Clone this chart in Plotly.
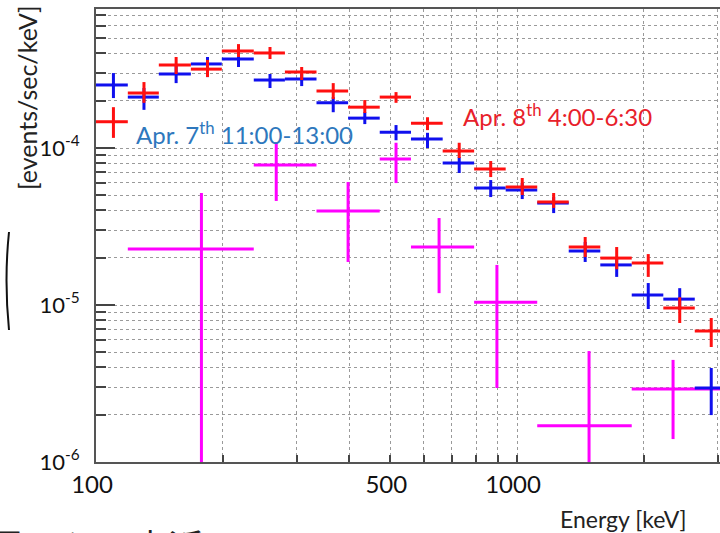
import plotly.graph_objects as go
import numpy as np

# ---- data ----
energy_lo = [100, 119, 141, 168, 199, 237, 281, 334, 397, 472, 560, 666, 791, 940, 1117, 1327, 1577, 1873, 2226, 2644]
energy_hi = [119, 141, 168, 199, 237, 281, 334, 397, 472, 560, 666, 791, 940, 1117, 1327, 1577, 1873, 2226, 2644, 3141]
energy_mid = [110, 130, 155, 184, 218, 259, 308, 366, 435, 516, 613, 729, 866, 1029, 1222, 1452, 1725, 2050, 2435, 2893]

blue_flux = [2.52e-4, 2.11e-4, 2.96e-4, 3.43e-4, 3.69e-4, 2.71e-4, 2.75e-4, 1.94e-4, 1.55e-4, 1.26e-4,
             1.14e-4, 8.02e-5, 5.56e-5, 5.40e-5, 4.46e-5, 2.21e-5, 1.80e-5, 1.16e-5, 1.09e-5, 2.96e-6]
blue_hi = [3.00e-4, 2.41e-4, 3.38e-4, 3.80e-4, 4.03e-4, 2.96e-4, 2.96e-4, 2.11e-4, 1.69e-4, 1.40e-4,
           1.25e-4, 8.77e-5, 6.25e-5, 5.98e-5, 4.87e-5, 2.52e-5, 2.02e-5, 1.38e-5, 1.28e-5, 3.97e-6]
blue_lo = [2.08e-4, 1.75e-4, 2.59e-4, 2.83e-4, 3.28e-4, 2.41e-4, 2.48e-4, 1.69e-4, 1.42e-4, 1.12e-4,
           1.00e-4, 6.93e-5, 4.87e-5, 4.73e-5, 3.85e-5, 1.88e-5, 1.51e-5, 9.43e-6, 9.29e-6, 1.99e-6]

red_flux = [1.47e-4, 2.24e-4, 3.38e-4, 3.18e-4, 4.15e-4, 4.03e-4, 3.05e-4, 2.31e-4, 1.82e-4, 2.11e-4,
            1.44e-4, 9.57e-5, 7.35e-5, 5.65e-5, 4.53e-5, 2.34e-5, 1.99e-5, 1.85e-5, 9.57e-6, 6.83e-6]
red_hi = [1.82e-4, 2.63e-4, 3.80e-4, 3.64e-4, 4.59e-4, 4.40e-4, 3.28e-4, 2.59e-4, 2.02e-4, 2.27e-4,
          1.57e-4, 1.08e-4, 8.26e-5, 6.44e-5, 5.17e-5, 2.71e-5, 2.34e-5, 2.11e-5, 1.12e-5, 8.26e-6]
red_lo = [1.16e-4, 1.94e-4, 2.96e-4, 2.83e-4, 3.80e-4, 3.69e-4, 2.71e-4, 2.05e-4, 1.67e-4, 1.94e-4,
          1.30e-4, 8.63e-5, 6.53e-5, 5.02e-5, 4.15e-5, 2.02e-5, 1.69e-5, 1.51e-5, 7.68e-6, 5.40e-6]

mag_mid = [178, 268, 397, 516, 653, 896, 1483, 2348]
mag_elo = [119, 237, 334, 472, 560, 791, 1117, 1873]
mag_ehi = [237, 334, 472, 560, 791, 1117, 1873, 3141]
mag_flux = [2.27e-5, 7.80e-5, 3.97e-5, 8.51e-5, 2.34e-5, 1.04e-5, 1.70e-6, 2.92e-6]
mag_hi = [5.17e-5, 1.09e-4, 6.07e-5, 1.08e-4, 3.58e-5, 1.80e-5, 5.09e-6, 4.47e-6]
mag_lo = [5e-7, 4.60e-5, 1.88e-5, 5.98e-5, 1.19e-5, 2.96e-6, 5e-7, 1.40e-6]

x_major = [100, 500, 1000]
x_major_text = ["100", "500", "1000"]
x_minor = [200, 300, 400, 600, 700, 800, 900, 2000, 3000]
y_major = [1e-6, 1e-5, 1e-4]
y_major_text = ["10<sup>-6</sup>", "10<sup>-5</sup>", "10<sup>-4</sup>"]
y_minor = [2e-6, 3e-6, 4e-6, 5e-6, 6e-6, 7e-6, 8e-6, 9e-6,
           2e-5, 3e-5, 4e-5, 5e-5, 6e-5, 7e-5, 8e-5, 9e-5,
           2e-4, 3e-4, 4e-4, 5e-4, 6e-4, 7e-4]

label_blue = "Apr. 7<sup>th</sup> 11:00-13:00"
label_red = "Apr. 8<sup>th</sup> 4:00-6:30"
x_title = "Energy [keV]"
y_title = "[events/sec/keV]"
jp_text = "見ると、点近"

# ---- figure ----
W, H = 720, 533
ML, MT, MB, MR = 96, 9, 71, 0
PW, PH = W - ML - MR, H - MT - MB


def px(xp):
    return (xp - ML) / PW


def py(yp):
    return (H - MB - yp) / PH


def cross(mid, lo, hi, f, flo, fhi, color):
    mid = np.array(mid, float); lo = np.array(lo, float); hi = np.array(hi, float)
    f = np.array(f, float); flo = np.array(flo, float); fhi = np.array(fhi, float)
    return go.Scatter(
        x=mid, y=f, mode="markers",
        marker=dict(size=3, color=color),
        error_x=dict(type="data", symmetric=False, array=hi - mid, arrayminus=mid - lo,
                     thickness=3, width=0, color=color),
        error_y=dict(type="data", symmetric=False, array=fhi - f, arrayminus=f - flo,
                     thickness=3, width=0, color=color),
        showlegend=False, hoverinfo="skip",
    )


fig = go.Figure()
fig.add_trace(cross(mag_mid, mag_elo, mag_ehi, mag_flux, mag_lo, mag_hi, "#ff00ff"))
fig.add_trace(cross(energy_mid, energy_lo, energy_hi, blue_flux, blue_lo, blue_hi, "#1010ee"))
fig.add_trace(cross(energy_mid, energy_lo, energy_hi, red_flux, red_lo, red_hi, "#ff1010"))

FONT = "Lato"
grid = dict(showgrid=True, gridcolor="#9a9a9a", griddash="dot", gridwidth=1)

fig.update_xaxes(
    type="log", range=[2, 2 + PW / 421.0],
    tickmode="array", tickvals=x_major, ticktext=x_major_text,
    ticks="inside", ticklen=7, tickwidth=1.5, tickcolor="#444",
    showline=True, linecolor="#555", linewidth=2, mirror=True,
    tickfont=dict(family=FONT, size=24, color="#111"),
    ticklabelshift=-4, ticklabelstandoff=0,
    minor=dict(tickmode="array", tickvals=x_minor, ticks="inside", ticklen=7,
               tickwidth=1.5, tickcolor="#444", **grid),
    zeroline=False, **grid,
)
fig.update_yaxes(
    type="log", range=[-6, -6 + PH / 157.0],
    tickmode="array", tickvals=y_major, ticktext=y_major_text,
    ticks="inside", ticklen=19, tickwidth=1.5, tickcolor="#444",
    showline=True, linecolor="#555", linewidth=2, mirror=False,
    tickfont=dict(family=FONT, size=22, color="#111"),
    ticklabelstandoff=10,
    minor=dict(tickmode="array", tickvals=y_minor, ticks="inside", ticklen=10,
               tickwidth=1.5, tickcolor="#444", **grid),
    zeroline=False, **grid,
)

annos = [
    dict(text=label_blue, x=px(134), y=py(133), xanchor="left", yanchor="middle",
         font=dict(family=FONT, size=24, color="#2e78bd")),
    dict(text=label_red, x=px(461), y=py(115), xanchor="left", yanchor="middle",
         font=dict(family=FONT, size=24, color="#e8202a")),
    dict(text=x_title, x=px(623), y=py(519), xanchor="center", yanchor="middle",
         font=dict(family=FONT, size=23, color="#222")),
    dict(text=y_title, x=px(27), y=py(98), xanchor="center", yanchor="middle", textangle=-90,
         font=dict(family=FONT, size=25, color="#222")),
    dict(text=jp_text, x=px(-12), y=py(517), xanchor="left", yanchor="top",
         font=dict(family="Noto Sans CJK JP", size=36, color="#222")),
]
for a in annos:
    a.update(xref="paper", yref="paper", showarrow=False)
fig.update_layout(annotations=annos)

fig.add_shape(type="path", xref="paper", yref="paper",
              path=f"M {px(9)} {py(232)} Q {px(4)} {py(280)} {px(9)} {py(330)}",
              line=dict(color="#111", width=2))

fig.update_layout(
    width=W, height=H,
    margin=dict(l=ML, r=MR, t=MT, b=MB, pad=0),
    paper_bgcolor="white", plot_bgcolor="white",
    showlegend=False,
)

fig.write_html("out.html", config={"displayModeBar": False},
               post_script="document.body.style.margin='0';document.body.style.overflow='hidden';")
